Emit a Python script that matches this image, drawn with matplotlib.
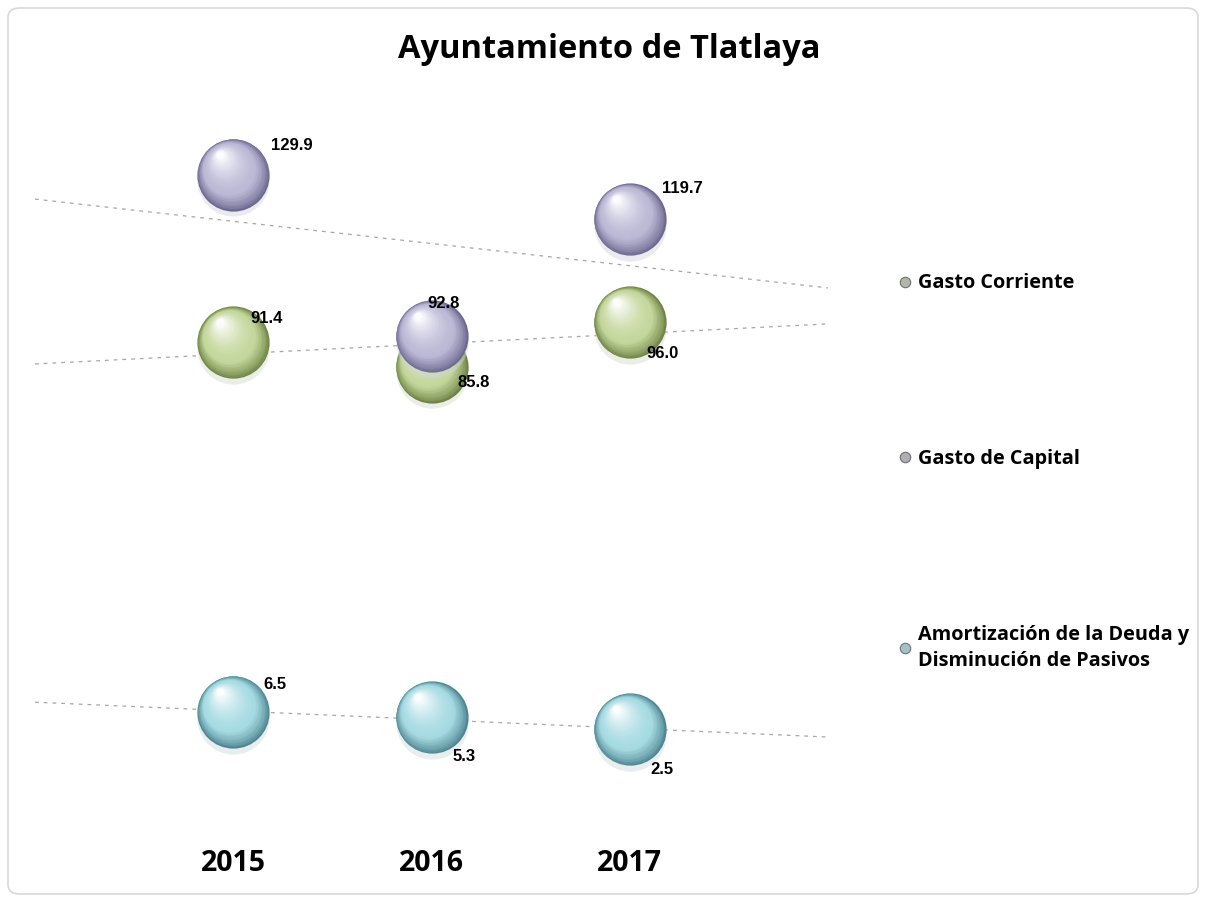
import numpy as np
import matplotlib
matplotlib.use("Agg")
import matplotlib.pyplot as plt
from matplotlib.transforms import offset_copy
from matplotlib.patches import FancyBboxPatch
from matplotlib.lines import Line2D

# data
years = ["2015", "2016", "2017"]
series_names = ["Gasto Corriente", "Gasto de Capital",
                "Amortización de la Deuda y\nDisminución de Pasivos"]
gasto_corriente = [91.4, 85.8, 96.0]
gasto_capital = [129.9, 92.8, 119.7]
amortizacion = [6.5, 5.3, 2.5]

# (base, dark edge) per series
colors = [("#c4d79c", "#6f8345"), ("#bcb9d6", "#6c6990"), ("#a6dbe3", "#4f8591")]
# label offsets in points (dx, dy) from bubble centre
label_off = [
    [(12, 17), (19, -11), (12, -22)],
    [(27, 21), (-3, 24), (23, 22)],
    [(22, 20), (15, -28), (15, -29)],
]

x = np.arange(1, len(years) + 1)
fig = plt.figure(figsize=(12.05, 9), dpi=100)
ax = fig.add_axes([35 / 1205, 100 / 900, (828 - 35) / 1205, 700 / 900])
ax.set_xlim(0, 4)
ax.set_ylim(-13.7, 147.1)

fig.patches.append(FancyBboxPatch((8 / 1205, 6 / 900), 1190 / 1205, 886 / 900,
                                  boxstyle="round,pad=0,rounding_size=0.01",
                                  transform=fig.transFigure, fc="white",
                                  ec="#d9d9d9", lw=1.2, zorder=-10))


def mix(c1, c2, t):
    a = np.array(matplotlib.colors.to_rgb(c1))
    b = np.array(matplotlib.colors.to_rgb(c2))
    return tuple(a * (1 - t) + b * t)


def spheres(xs, ys, base, dark, z):
    s0 = 52.0  # marker diameter in points
    # soft reflection below
    tr = offset_copy(ax.transData, fig=fig, x=0, y=-4, units="points")
    ax.scatter(xs, ys, s=s0 ** 2, color=mix(dark, "white", 0.7), alpha=0.45,
               lw=0, transform=tr, zorder=z)
    n = 36
    for i in range(n):
        t = i / (n - 1)
        d = s0 * (1 - 0.9 * t)
        off = 0.75 * (s0 - d) / 2
        dx = -off * 0.55
        dy = off * 0.83
        if t < 0.3:
            col = mix(dark, base, (t / 0.3) ** 0.8)
        else:
            col = mix(base, "white", ((t - 0.3) / 0.7) ** 1.6 * 0.95)
        tr = offset_copy(ax.transData, fig=fig, x=dx, y=dy, units="points")
        ax.scatter(xs, ys, s=d ** 2, color=col, lw=0, transform=tr, zorder=z + 0.01 * i)


all_series = [gasto_corriente, gasto_capital, amortizacion]
xx = np.array([0, 4])
for k, vals in enumerate(all_series):
    m, b = np.polyfit(x, vals, 1)
    ax.plot(xx, m * xx + b, color="#a6a6a6", lw=0.9, ls=(0, (3, 4)), zorder=1)

for k, vals in enumerate(all_series):
    spheres(x, vals, colors[k][0], colors[k][1], 2 + k)
    for i, v in enumerate(vals):
        ax.annotate(f"{v:.1f}", (x[i], v), xytext=label_off[k][i],
                    textcoords="offset points", ha="left", va="center",
                    fontsize=12, fontweight="bold", family="Liberation Sans",
                    zorder=10)

ax.set_xticks(x)
ax.set_xticklabels(years, fontsize=20.5, fontweight="bold", family="Open Sans")
ax.tick_params(axis="x", length=0, pad=35)
ax.set_yticks([])
for sp in ax.spines.values():
    sp.set_visible(False)
ax.patch.set_alpha(0)

fig.text(609 / 1205, 1 - 49 / 900, "Ayuntamiento de Tlatlaya", ha="center",
         va="center", fontsize=23.5, fontweight="bold", family="Open Sans")

leg_cols = [("#b2b6aa", "#6f7268"), ("#b0b0b4", "#6f6f74"), ("#a8c0c4", "#68787c")]
handles = [Line2D([], [], ls="none", marker="o", markersize=7.5,
                  markerfacecolor=c, markeredgecolor=e, markeredgewidth=0.8)
           for c, e in leg_cols]
leg = fig.legend(handles, series_names, loc="center left",
                 bbox_to_anchor=(898 / 1205, 1 - 472 / 900), frameon=False,
                 prop={"family": "Open Sans", "weight": "bold", "size": 14.3},
                 labelspacing=7.85, handlelength=0.7, handletextpad=0.3,
                 borderpad=0, borderaxespad=0)
for t in leg.get_texts():
    t.set_linespacing(1.35)

fig.savefig("out.png", dpi=100)
